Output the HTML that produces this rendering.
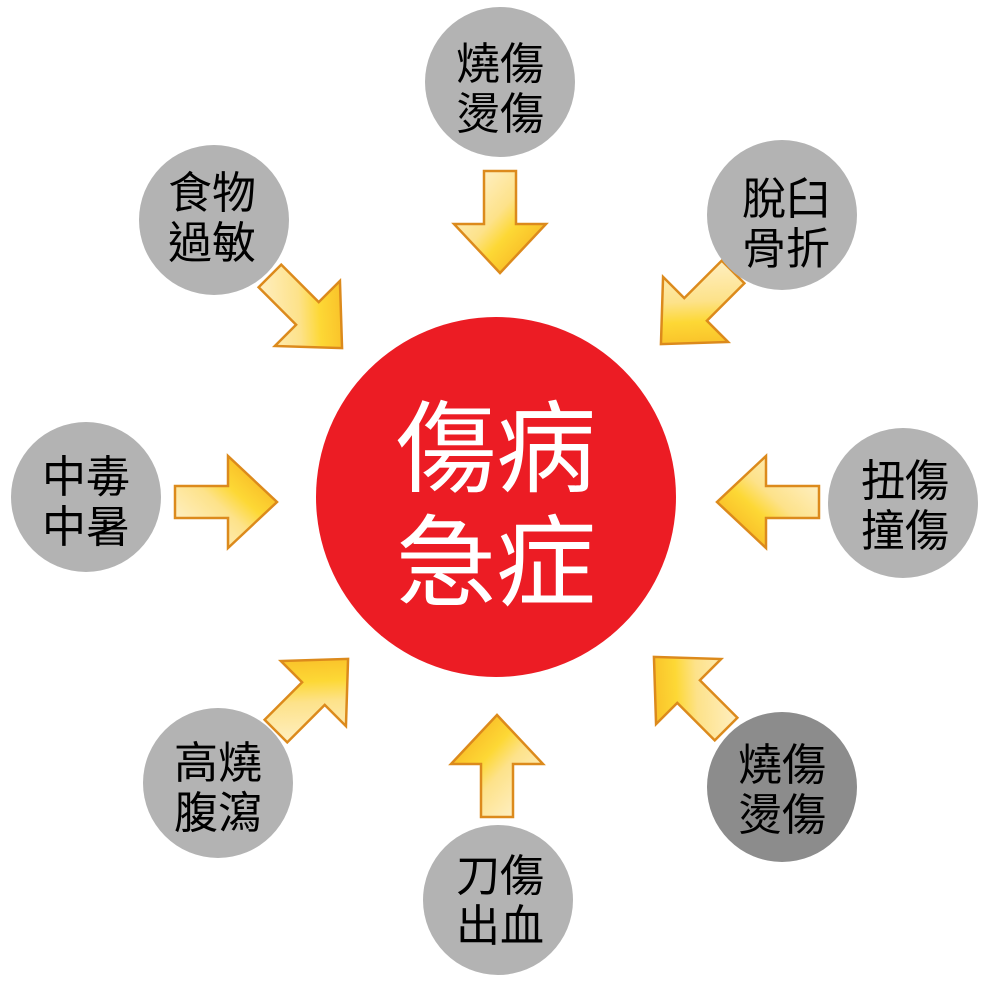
<!DOCTYPE html>
<html><head><meta charset="utf-8"><style>
html,body{margin:0;padding:0;background:#fff;width:994px;height:993px;overflow:hidden}
text{font-family:"Liberation Sans","Noto Sans CJK TC","Noto Sans CJK SC",sans-serif}
</style></head><body>
<svg width="994" height="993" viewBox="0 0 994 993" xmlns="http://www.w3.org/2000/svg">
<defs>
<linearGradient id="g" x1="0" y1="0" x2="1" y2="1">
<stop offset="0" stop-color="#fff6e0"/>
<stop offset="0.45" stop-color="#fde28a"/>
<stop offset="0.6" stop-color="#fdd835"/>
<stop offset="1" stop-color="#f5a31a"/>
</linearGradient>
<g id="a">
<path d="M-16,-51 L16,-51 L16,2 L46,2 L0,51 L-46,2 L-16,2 Z" fill="url(#g)" stroke="#dc8a1c" stroke-width="2.5" stroke-linejoin="miter"/>
</g>
</defs>
<circle cx="496" cy="497" r="180" fill="#ec1c24"/>
<text x="496" y="484" font-size="100" fill="#fff" text-anchor="middle">傷病</text>
<text x="496" y="598" font-size="100" fill="#fff" text-anchor="middle">急症</text>

<use href="#a" transform="translate(500,222) rotate(0)"/>
<use href="#a" transform="translate(697,308) rotate(45)"/>
<use href="#a" transform="translate(768,502) rotate(90)"/>
<use href="#a" transform="translate(690,693) rotate(135)"/>
<use href="#a" transform="translate(497,766) rotate(180)"/>
<use href="#a" transform="translate(312,695) rotate(225)"/>
<use href="#a" transform="translate(226,502) rotate(270)"/>
<use href="#a" transform="translate(306,312) rotate(315)"/>

<g font-size="44" fill="#000" text-anchor="middle">
<circle cx="500" cy="82" r="75" fill="#b3b3b3"/>
<text x="500" y="79">燒傷</text><text x="500" y="129">燙傷</text>
<circle cx="782" cy="215" r="75" fill="#b3b3b3"/>
<text x="786" y="214">脫臼</text><text x="786" y="264">骨折</text>
<circle cx="903" cy="503" r="75" fill="#b3b3b3"/>
<text x="905" y="496">扭傷</text><text x="905" y="546">撞傷</text>
<circle cx="782" cy="787" r="75" fill="#8c8c8c"/>
<text x="782" y="780">燒傷</text><text x="782" y="830">燙傷</text>
<circle cx="498" cy="900" r="75" fill="#b3b3b3"/>
<text x="500" y="891">刀傷</text><text x="500" y="941">出血</text>
<circle cx="218" cy="783" r="75" fill="#b3b3b3"/>
<text x="218" y="778">高燒</text><text x="218" y="828">腹瀉</text>
<circle cx="86" cy="497" r="75" fill="#b3b3b3"/>
<text x="86" y="492">中毒</text><text x="86" y="542">中暑</text>
<circle cx="214" cy="220" r="75" fill="#b3b3b3"/>
<text x="212" y="208">食物</text><text x="212" y="258">過敏</text>
</g>
</svg>
</body></html>
